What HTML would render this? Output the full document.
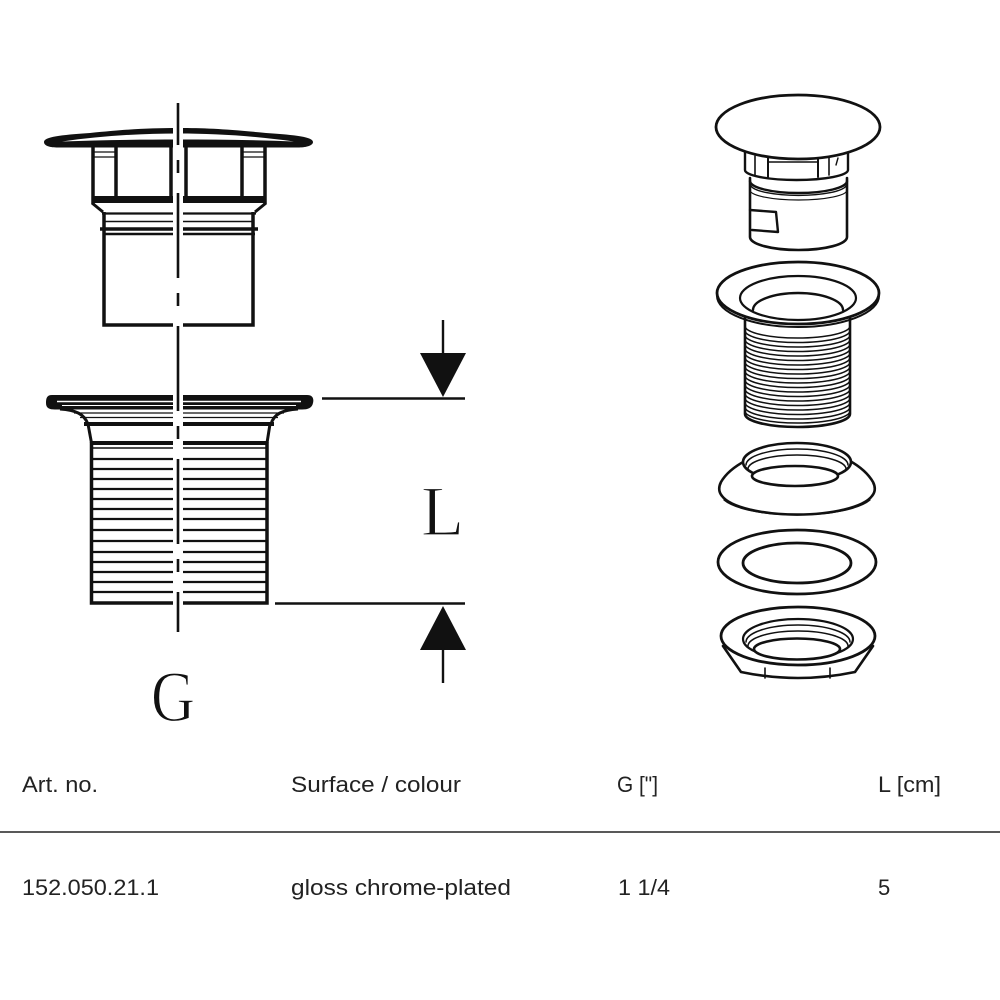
<!DOCTYPE html>
<html><head><meta charset="utf-8"><style>
html,body{margin:0;padding:0;background:#fff;}
svg{display:block;}
</style></head><body>
<svg width="1000" height="1000" viewBox="0 0 1000 1000" xmlns="http://www.w3.org/2000/svg">
<rect width="1000" height="1000" fill="#fff"/>

<!-- ===== LEFT: upper part (plug) ===== -->
<g stroke="#111" fill="none" stroke-linecap="butt">
  <!-- cap disc -->
  <path d="M44,142 C44,137 60,135 90,133 C130,129 150,128 178,128 C206,128 226,129 266,133 C296,135 313,137 313,142 C313,146 305,147.5 298,147.5 L58,147.5 C50,147.5 44,146 44,142 Z" fill="#111" stroke="none"/>
  <path d="M62,141.5 C100,136 140,133.5 178,133.5 C216,133.5 256,136 294,141.5 C256,140 216,139.5 178,139.5 C140,139.5 100,140 62,141.5 Z" fill="#fff" stroke="none"/>
  <!-- fingers -->
  <line x1="93" y1="147" x2="93" y2="204" stroke-width="3.5"/>
  <line x1="265" y1="147" x2="265" y2="204" stroke-width="3.5"/>
  <line x1="116" y1="147" x2="116" y2="198" stroke-width="3.5"/>
  <line x1="171" y1="147" x2="171" y2="198" stroke-width="3.5"/>
  <line x1="186" y1="147" x2="186" y2="198" stroke-width="3.5"/>
  <line x1="242" y1="147" x2="242" y2="198" stroke-width="3.5"/>
  <line x1="93" y1="152" x2="116" y2="152" stroke-width="1.3"/>
  <line x1="93" y1="157" x2="116" y2="157" stroke-width="1.3"/>
  <line x1="242" y1="152" x2="265" y2="152" stroke-width="1.3"/>
  <line x1="242" y1="157" x2="265" y2="157" stroke-width="1.3"/>
  <rect x="91.5" y="196" width="175" height="7" fill="#111" stroke="none"/>
  <!-- shoulder -->
  <path d="M92,203 L103,212" stroke-width="3"/>
  <path d="M266,203 L255,212" stroke-width="3"/>
  <line x1="102" y1="213.5" x2="256" y2="213.5" stroke-width="2.2"/>
  <line x1="104" y1="221.5" x2="254" y2="221.5" stroke-width="1.4"/>
  <line x1="100" y1="229" x2="258" y2="229" stroke-width="3.5"/>
  <line x1="103" y1="234" x2="255" y2="234" stroke-width="2.4"/>
  <!-- body -->
  <path d="M104,212 L104,325 L253,325 L253,212" stroke-width="3.5"/>
</g>

<!-- ===== LEFT: lower part (threaded body) ===== -->
<g stroke="#111" fill="none">
  <path d="M52,395 L307,395 C313,395 314,399 313,403 C312,408 308,409.5 302,409.5 L55,409.5 C49,409.5 46,408 46,403 C46,398 47,395 52,395 Z" fill="#111" stroke="none"/>
  <line x1="57" y1="401.5" x2="301" y2="401.5" stroke="#fff" stroke-width="1.5"/>
  <line x1="62" y1="405.5" x2="296" y2="405.5" stroke="#fff" stroke-width="1"/>
  <path d="M60,409 C76,410 84,414 88,424" stroke-width="3"/>
  <path d="M298,409 C282,410 274,414 271,424" stroke-width="3"/>
  <line x1="74" y1="413" x2="284" y2="413" stroke-width="1.3"/>
  <line x1="80" y1="417.5" x2="278" y2="417.5" stroke-width="1.3"/>
  <line x1="84" y1="424" x2="274" y2="424" stroke-width="4"/>
  <path d="M88,424 L91.5,443" stroke-width="3"/>
  <path d="M270,424 L267,443" stroke-width="3"/>
  <!-- thread body -->
  <path d="M91.5,442 L91.5,603 L267,603 L267,442" stroke-width="3.5"/>
  <line x1="91" y1="443" x2="267" y2="443" stroke-width="4"/>
  <g stroke-width="2.2">
    <line x1="92" y1="448" x2="266" y2="448" stroke-width="1.4"/>
    <line x1="92" y1="459" x2="266" y2="459"/>
    <line x1="92" y1="469" x2="266" y2="469"/>
    <line x1="92" y1="479" x2="266" y2="479"/>
    <line x1="92" y1="489" x2="266" y2="489"/>
    <line x1="92" y1="499" x2="266" y2="499"/>
    <line x1="92" y1="509" x2="266" y2="509"/>
    <line x1="92" y1="519" x2="266" y2="519"/>
    <line x1="92" y1="530" x2="266" y2="530"/>
    <line x1="92" y1="541" x2="266" y2="541"/>
    <line x1="92" y1="552" x2="266" y2="552"/>
    <line x1="92" y1="562" x2="266" y2="562"/>
    <line x1="92" y1="572" x2="266" y2="572"/>
    <line x1="92" y1="582" x2="266" y2="582"/>
    <line x1="92" y1="592" x2="266" y2="592"/>
  </g>
</g>

<!-- centre line with halo -->
<line x1="178" y1="102" x2="178" y2="632" stroke="#fff" stroke-width="10"/>
<line x1="178" y1="103" x2="178" y2="632" stroke="#111" stroke-width="2.6" stroke-dasharray="85 15 13 20" stroke-dashoffset="43"/>

<!-- ===== dimension L ===== -->
<g stroke="#111" fill="#111">
  <line x1="443" y1="320" x2="443" y2="356" stroke-width="2.4"/>
  <polygon points="420,353 466,353 443,397" stroke="none"/>
  <line x1="322" y1="398.5" x2="465" y2="398.5" stroke-width="2.4"/>
  <line x1="275" y1="603.5" x2="465" y2="603.5" stroke-width="2.4"/>
  <polygon points="443,606 420,650 466,650" stroke="none"/>
  <line x1="443" y1="648" x2="443" y2="683" stroke-width="2.4"/>
</g>
<text x="421" y="535" font-family="Liberation Serif, serif" font-size="71" fill="#111" stroke="#fff" stroke-width="1.2" textLength="43" lengthAdjust="spacingAndGlyphs">L</text>
<text x="151" y="721" font-family="Liberation Serif, serif" font-size="72" fill="#111" stroke="#fff" stroke-width="1.2" textLength="44" lengthAdjust="spacingAndGlyphs">G</text>

<!-- ===== RIGHT: exploded view ===== -->
<g stroke="#111" fill="#fff" stroke-linecap="round" stroke-linejoin="round">
  <!-- part 1: plug body -->
  <path d="M750,178 L750,237 A48.5,13 0 0 0 847,237 L847,178" stroke-width="2.6"/>
  <path d="M750,181 A48.5,12 0 0 0 847,181" fill="none" stroke-width="2.4"/>
  <path d="M751,186 A48,11 0 0 0 846,186" fill="none" stroke-width="1.4"/>
  <path d="M750,190 A48.5,10 0 0 0 847,190" fill="none" stroke-width="1.2"/>
  <path d="M750,210 L776,212 L778,232 L752,230" fill="none" stroke-width="2.4"/>
  <!-- fingers -->
  <path d="M745,152 L745,170 A51.5,10 0 0 0 848,170 L848,152" stroke-width="2.4"/>
  <line x1="755" y1="156" x2="755" y2="175" stroke-width="1.6"/>
  <line x1="768" y1="158" x2="768" y2="177" stroke-width="2"/>
  <line x1="818" y1="158" x2="818" y2="177" stroke-width="2"/>
  <line x1="829" y1="156" x2="829" y2="175" stroke-width="1.6"/>
  <line x1="768" y1="162" x2="818" y2="162" stroke-width="1.6"/>
  <path d="M836,165 L838,158" fill="none" stroke-width="1.4"/>
  <!-- cap -->
  <ellipse cx="798" cy="127" rx="82" ry="32" stroke-width="2.8"/>

  <!-- part 2: threaded tube -->
  <path d="M745,318 L745,414 A52.5,13 0 0 0 850,414 L850,318" stroke-width="2.6"/>
  <g fill="none" stroke-width="1.5">
    <path d="M745,326 A52.5,12 0 0 0 850,326"/>
    <path d="M745,330.5 A52.5,12 0 0 0 850,330.5"/>
    <path d="M745,335 A52.5,12 0 0 0 850,335"/>
    <path d="M745,339.5 A52.5,12 0 0 0 850,339.5"/>
    <path d="M745,344 A52.5,12 0 0 0 850,344"/>
    <path d="M745,348.5 A52.5,12 0 0 0 850,348.5"/>
    <path d="M745,353 A52.5,12 0 0 0 850,353"/>
    <path d="M745,357.5 A52.5,12 0 0 0 850,357.5"/>
    <path d="M745,362 A52.5,12 0 0 0 850,362"/>
    <path d="M745,366.5 A52.5,12 0 0 0 850,366.5"/>
    <path d="M745,371 A52.5,12 0 0 0 850,371"/>
    <path d="M745,375.5 A52.5,12 0 0 0 850,375.5"/>
    <path d="M745,380 A52.5,12 0 0 0 850,380"/>
    <path d="M745,384.5 A52.5,12 0 0 0 850,384.5"/>
    <path d="M745,389 A52.5,12 0 0 0 850,389"/>
    <path d="M745,393.5 A52.5,12 0 0 0 850,393.5"/>
    <path d="M745,398 A52.5,12 0 0 0 850,398"/>
    <path d="M745,402.5 A52.5,12 0 0 0 850,402.5"/>
    <path d="M745,407 A52.5,12 0 0 0 850,407"/>
    <path d="M745,411 A52.5,12 0 0 0 850,411"/>
  </g>
  <!-- flange -->
  <path d="M717,296 A81,31 0 0 0 879,296" fill="none" stroke-width="2"/>
  <ellipse cx="798" cy="293" rx="81" ry="31" stroke-width="2.8"/>
  <ellipse cx="798" cy="298" rx="58" ry="22" stroke-width="2.2"/>
  <path d="M753,310 A45,17 0 0 1 843,310" fill="none" stroke-width="2.4"/>

  <!-- part 3: cone nut -->
  <path d="M745,461 Q728,470 721,482 Q717,490 722,496 A77,24 0 0 0 872,496 Q877,490 873,482 Q866,470 850,461" stroke-width="2.6"/>
  <path d="M724,500 A77,22 0 0 0 870,500" fill="none" stroke-width="1.3"/>
  <ellipse cx="797" cy="462" rx="54" ry="19" stroke-width="2.6"/>
  <path d="M746,465 A51,16 0 0 1 848,465" fill="none" stroke-width="1.5"/>
  <path d="M748,469 A49,14 0 0 1 846,469" fill="none" stroke-width="1.5"/>
  <ellipse cx="795" cy="476" rx="43" ry="10" stroke-width="2.6"/>

  <!-- part 4: washer -->
  <ellipse cx="797" cy="562" rx="79" ry="32" stroke-width="2.8"/>
  <ellipse cx="797" cy="563" rx="54" ry="20" stroke-width="2.8"/>

  <!-- part 5: nut -->
  <path d="M723,646 L741,672 Q798,684 855,672 L873,646" stroke-width="2.6"/>
  <line x1="765" y1="668" x2="765" y2="678" stroke-width="1.6"/>
  <line x1="830" y1="668" x2="830" y2="678" stroke-width="1.6"/>
  <ellipse cx="798" cy="636" rx="77" ry="29" stroke-width="2.8"/>
  <ellipse cx="798" cy="639" rx="55" ry="20" stroke-width="2.2"/>
  <path d="M746,642 A52,17 0 0 1 850,642" fill="none" stroke-width="1.5"/>
  <path d="M748,646 A50,15 0 0 1 848,646" fill="none" stroke-width="1.5"/>
  <ellipse cx="797" cy="649" rx="43" ry="10.5" stroke-width="2.6"/>
</g>

<!-- ===== TABLE ===== -->
<line x1="0" y1="832" x2="1000" y2="832" stroke="#222" stroke-width="1.6"/>
<g font-family="Liberation Sans, Arial, sans-serif" font-size="22" fill="#222">
  <text x="22" y="792" textLength="76" lengthAdjust="spacingAndGlyphs">Art. no.</text>
  <text x="291" y="792" textLength="170" lengthAdjust="spacingAndGlyphs">Surface / colour</text>
  <text x="617" y="792" textLength="41" lengthAdjust="spacingAndGlyphs">G ["]</text>
  <text x="878" y="792" textLength="63" lengthAdjust="spacingAndGlyphs">L [cm]</text>
  <text x="22" y="895" textLength="137" lengthAdjust="spacingAndGlyphs">152.050.21.1</text>
  <text x="291" y="895" textLength="220" lengthAdjust="spacingAndGlyphs">gloss chrome-plated</text>
  <text x="618" y="895" textLength="52" lengthAdjust="spacingAndGlyphs">1 1/4</text>
  <text x="878" y="895">5</text>
</g>
</svg>
</body></html>
